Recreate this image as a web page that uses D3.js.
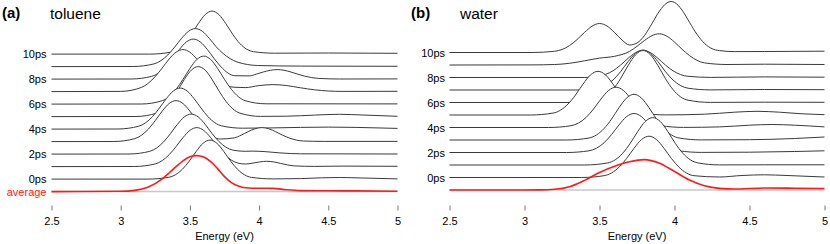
<!DOCTYPE html>
<html>
<head>
<meta charset="utf-8">
<script src="https://cdn.jsdelivr.net/npm/d3@7"></script>
<style>
  body { margin: 0; background: #fff; }
  svg { display: block; font-family: 'Liberation Sans', Arial, sans-serif; }
</style>
</head>
<body>
<div id="chart"></div>
<script>
'use strict';

// rows from bottom (front) to top (back)
const rows = ['average', '0ps', '1ps', '2ps', '3ps', '4ps', '5ps', '6ps', '7ps', '8ps', '9ps', '10ps'];
const rowLabels = ['average', '0ps', '', '2ps', '', '4ps', '', '6ps', '', '8ps', '', '10ps'];
const energyTicks = [2.5, 3, 3.5, 4, 4.5, 5];

// toluene spectra, [energy (eV), intensity (a.u.)]
const tolAvg = [[2.5,0],[3.0,0.3],[3.1,1.2],[3.2,4.6],[3.3,12.7],[3.35,18.6],[3.4,25],[3.45,30.8],[3.5,34.8],[3.545,36],[3.6,34.5],[3.65,30],[3.7,23],[3.75,15],[3.8,9],[3.85,5.5],[3.9,3.8],[4.0,3.3],[4.05,3.4],[4.1,3.2],[4.2,1.8],[4.3,1.0],[4.5,0.8],[4.7,0.7],[5,0.4]];
const tol00 = [[2.5,0],[3.195,0],[3.345,1.7],[3.445,9.7],[3.495,17.9],[3.545,27.6],[3.595,35.8],[3.645,39],[3.695,35.8],[3.745,27.6],[3.795,17.9],[3.845,9.7],[3.945,1.7],[4.1,0.2],[4.3,0.5],[4.45,1.3],[4.58,1.6],[4.75,1.1],[5,0.2]];
const tol01 = [[2.5,0],[3.1,0.1],[3.25,2.7],[3.35,11.9],[3.4,20],[3.45,29],[3.5,36.2],[3.55,39],[3.6,36.2],[3.65,29],[3.7,20],[3.75,12],[3.85,3.4],[3.9,2.6],[3.955,3.5],[4.005,4.7],[4.055,5.3],[4.105,4.7],[4.155,3.2],[4.205,1.7],[4.255,0.7],[4.4,0.2],[4.6,0.5],[5,0.3]];
const tol02 = [[2.5,0],[3.06,0.1],[3.21,2.8],[3.31,12.2],[3.36,20.6],[3.41,29.8],[3.46,37.2],[3.51,40],[3.56,37.2],[3.61,29.8],[3.66,20.6],[3.71,12.6],[3.81,4.0],[3.9,2.8],[3.95,3],[4.05,2.4],[4.15,1.2],[4.3,0.3],[5,0.1]];
const tol03 = [[2.5,0],[2.95,0.1],[3.1,2.9],[3.2,12.5],[3.25,21.1],[3.3,30.5],[3.35,38.1],[3.4,41],[3.45,38.1],[3.5,30.5],[3.55,21.1],[3.6,12.5],[3.72,2.6],[3.82,3.7],[3.87,6.4],[3.92,9.9],[3.97,12.8],[4.02,14],[4.07,12.8],[4.12,9.9],[4.17,6.4],[4.22,3.5],[4.32,0.6],[4.47,0.2],[5,0.2]];
const tol04 = [[2.5,0],[2.98,0.1],[3.13,2.9],[3.23,12.5],[3.28,21.1],[3.33,30.5],[3.38,38.1],[3.43,41],[3.48,38.1],[3.53,30.5],[3.58,21.1],[3.63,12.5],[3.73,3.2],[3.88,0.9],[4.1,1.2],[4.3,1.7],[4.5,2],[4.7,1.7],[5,0.7]];
const tol05 = [[2.5,0],[3.11,0.1],[3.26,3.5],[3.36,15.3],[3.41,25.7],[3.46,37.2],[3.51,46.5],[3.56,50],[3.61,46.5],[3.66,37.2],[3.71,25.7],[3.76,15.3],[3.86,3.5],[4.01,0.2],[4.2,0.4],[4.4,1.5],[4.58,2.3],[4.75,1.6],[5,0.3]];
const tol06 = [[2.5,0],[3.15,0.1],[3.3,3.4],[3.4,14.7],[3.45,24.7],[3.5,35.7],[3.55,44.6],[3.6,48],[3.65,44.6],[3.7,35.7],[3.75,24.7],[3.8,14.7],[3.9,3.4],[4.05,0.3],[5,0.2]];
const tol07 = [[2.5,0],[3.0,0.2],[3.15,4.2],[3.25,15.1],[3.3,23.6],[3.35,32.6],[3.4,39.4],[3.45,42],[3.5,39.4],[3.55,32.6],[3.6,23.6],[3.65,15.1],[3.75,5.3],[3.9,4.0],[4.0,6],[4.1,7],[4.2,6],[4.3,3.8],[4.4,1.8],[4.5,0.6],[4.6,0.2],[5,0.3]];
const tol08 = [[2.5,0],[3.075,0.1],[3.225,2.8],[3.325,12.2],[3.375,20.6],[3.425,29.8],[3.475,37.2],[3.525,40],[3.575,37.2],[3.625,29.8],[3.675,20.6],[3.725,12.2],[3.825,3.4],[3.93,3.2],[3.98,5],[4.03,7.1],[4.08,8.8],[4.13,9.5],[4.18,8.8],[4.23,7.1],[4.28,4.9],[4.33,2.9],[4.43,0.7],[4.58,0.1],[5,0.2]];
const tol09 = [[2.5,0],[3.09,0.1],[3.24,2.7],[3.34,11.6],[3.39,19.5],[3.44,28.3],[3.49,35.3],[3.54,38],[3.59,35.3],[3.64,28.3],[3.69,19.8],[3.74,13.1],[3.84,4.7],[3.99,1.1],[4.3,0.5],[5,0.3]];
const tol10 = [[2.5,0],[3.21,0],[3.36,1.9],[3.46,10.7],[3.51,19.7],[3.56,30.4],[3.61,39.4],[3.66,43],[3.71,39.4],[3.76,30.4],[3.81,19.7],[3.86,10.7],[3.96,2.4],[4.11,0.9],[4.5,1.1],[4.8,0.9],[5,0.8]];

// water spectra
const watAvg = [[2.5,0],[3.0,0],[3.1,0.1],[3.2,0.7],[3.3,3.3],[3.4,9.6],[3.5,17.5],[3.6,23.7],[3.7,28.3],[3.8,30.4],[3.9,26.7],[4.0,18.5],[4.1,10],[4.2,4.2],[4.3,1.6],[4.4,1.0],[4.6,2],[4.8,1.8],[5,1.5]];
const wat00 = [[2.5,0],[3.38,0],[3.53,1.8],[3.63,10.3],[3.68,18.9],[3.73,29.2],[3.78,37.9],[3.83,41.3],[3.88,37.9],[3.93,29.2],[3.98,18.9],[4.03,10.3],[4.13,1.8],[4.3,0.5],[4.45,2],[4.6,2.7],[4.75,2],[5,0.5]];
const wat01 = [[2.5,0],[3.4,0],[3.555,2.1],[3.655,11.8],[3.705,21.7],[3.755,33.5],[3.805,43.5],[3.855,47.4],[3.905,43.5],[3.955,33.5],[4.005,21.7],[4.055,11.8],[4.155,2.1],[4.3,0.1],[4.6,0.2],[5,0.2]];
const wat02 = [[2.5,0],[3.28,0],[3.43,1.7],[3.53,9.7],[3.58,17.9],[3.63,27.6],[3.68,35.8],[3.73,39],[3.78,35.8],[3.83,27.6],[3.88,17.9],[3.93,9.7],[4.03,1.7],[4.18,0.1],[4.5,0.3],[4.8,1],[5,1.7]];
const wat03 = [[2.5,0],[3.28,0],[3.43,2],[3.53,11.4],[3.58,20.9],[3.63,32.3],[3.68,41.9],[3.73,45.7],[3.78,41.9],[3.83,32.3],[3.88,20.9],[3.93,11.4],[4.03,2],[4.18,0.1],[4.5,0.3],[4.8,1.5],[5,3]];
const wat04 = [[2.5,0],[3.16,0],[3.31,1.8],[3.41,10],[3.46,18.5],[3.51,28.5],[3.56,37],[3.61,40.3],[3.66,37],[3.71,28.5],[3.76,18.5],[3.81,10],[3.91,1.8],[4.06,0.1],[4.3,0.6],[4.5,2.3],[4.65,3],[4.8,2.3],[5,0.6]];
const wat05 = [[2.5,0],[3.04,0],[3.19,1.9],[3.29,10.9],[3.34,20],[3.39,30.9],[3.44,40.1],[3.49,43.7],[3.54,40.1],[3.59,30.9],[3.64,20],[3.69,10.9],[3.79,1.9],[3.94,0.1],[4.2,0.8],[4.4,2.8],[4.55,3.7],[4.7,2.8],[4.85,1.2],[5,0.3]];
const wat06 = [[2.5,0],[3.34,0],[3.49,2.3],[3.59,12.9],[3.64,23.8],[3.69,36.8],[3.74,47.7],[3.79,52],[3.84,47.7],[3.89,36.8],[3.94,23.8],[3.99,12.9],[4.09,2.3],[4.24,0.1],[4.6,0.3],[5,0.2]];
const wat07 = [[2.5,0],[3.34,0],[3.49,1.8],[3.59,10],[3.64,18.3],[3.69,28.3],[3.74,36.7],[3.79,40],[3.84,36.7],[3.89,28.3],[3.94,18.3],[3.99,10],[4.09,1.8],[4.24,0.1],[4.6,0.5],[5,0.3]];
const wat08 = [[2.5,0],[3.4,0],[3.49,1.2],[3.59,6.7],[3.64,12.4],[3.69,19.1],[3.74,24.8],[3.79,27],[3.84,24.8],[3.89,19.1],[3.94,12.4],[3.99,6.7],[4.09,1.2],[4.24,0.1],[4.6,0.6],[5,0.3]];
const wat09 = [[2.5,0],[3.05,0.1],[3.2,0.5],[3.3,1.7],[3.4,4.2],[3.5,6.9],[3.6,8.7],[3.7,13.6],[3.75,18.7],[3.8,24.5],[3.85,29.4],[3.9,31.2],[3.95,28.7],[4.0,22.9],[4.05,15.8],[4.1,9.4],[4.2,2.1],[4.35,0.5],[4.6,0.8],[5,0.5]];
const wat10 = [[2.5,0],[3.05,0],[3.2,1.2],[3.3,6.9],[3.35,12.9],[3.4,20.1],[3.45,26.3],[3.5,29],[3.55,26.5],[3.6,20],[3.65,12.5],[3.7,7.5],[3.75,9.5],[3.8,17],[3.85,29],[3.9,41.5],[3.95,49.7],[3.977,51],[4.0,50.1],[4.05,42.4],[4.1,30.2],[4.15,18.1],[4.2,9.1],[4.25,3.8],[4.3,1.9],[4.4,0.9],[4.6,1.0],[5,1.3]];

const width = 830, height = 244;

const svg = d3.select('#chart')
    .append('svg')
    .attr('width', width)
    .attr('height', height);

const panels = [
    {tag: '(a)', tagX: 2, name: 'toluene', nameX: 50, left: 51.5, right: 397.5, bottom: 191.6, top: 54.1,
     labelX: 46.5, showAverage: true,
     curves: [tolAvg, tol00, tol01, tol02, tol03, tol04, tol05, tol06, tol07, tol08, tol09, tol10]},
    {tag: '(b)', tagX: 411, name: 'water', nameX: 460, left: 449.5, right: 824.5, bottom: 190, top: 52.5,
     labelX: 445, showAverage: false,
     curves: [watAvg, wat00, wat01, wat02, wat03, wat04, wat05, wat06, wat07, wat08, wat09, wat10]},
];

panels.forEach(drawPanel);

function drawPanel(p) {
    const x = d3.scaleLinear().domain([2.5, 5]).range([p.left, p.right]),
        row = d3.scalePoint().domain(rows).range([p.bottom, p.top]),
        y = d3.scaleLinear().domain([0, 50]).range([0, 50]);

    const g = svg.append('g');

    // back to front, white fill hides the curves behind
    for (let i = rows.length - 1; i >= 1; i--) {
        const base = row(rows[i]),
            area = d3.area()
                .x(d => x(d[0]))
                .y0(base)
                .y1(d => base - y(d[1]))
                .curve(d3.curveMonotoneX);

        g.append('path')
            .attr('d', area(p.curves[i]))
            .attr('fill', '#fff');
        g.append('path')
            .attr('d', area.lineY1()(p.curves[i]))
            .attr('fill', 'none')
            .attr('stroke', '#3a3a3a')
            .attr('stroke-width', 1);
    }

    // average: grey zero line + red curve
    const avgBase = row('average');
    g.append('line')
        .attr('x1', x(2.5)).attr('x2', x(5))
        .attr('y1', avgBase).attr('y2', avgBase)
        .attr('stroke', '#c8c8c8')
        .attr('stroke-width', 1.5);

    const avgLine = d3.line()
        .x(d => x(d[0]))
        .y(d => avgBase - y(d[1]))
        .curve(d3.curveMonotoneX);
    g.append('path')
        .attr('d', avgLine(p.curves[0]))
        .attr('fill', 'none')
        .attr('stroke', '#ff1a1a')
        .attr('stroke-width', 1.6);

    // row labels
    g.selectAll('.rowlabel')
        .data(rows.map((r, i) => ({r: r, label: rowLabels[i]}))
            .filter(d => d.label && (d.r != 'average' || p.showAverage)))
        .enter()
        .append('text')
        .attr('class', 'rowlabel')
        .attr('x', p.labelX)
        .attr('y', d => row(d.r) + 4)
        .attr('text-anchor', 'end')
        .style('font-size', '11px')
        .attr('fill', d => d.r == 'average' ? '#ff1a1a' : '#000')
        .text(d => d.label);

    // energy axis, ticks only
    const axis = g.append('g')
        .attr('transform', 'translate(0,205.5)')
        .call(d3.axisBottom(x).tickValues(energyTicks).tickSize(5).tickPadding(6.5).tickFormat(d => String(d)));
    axis.select('.domain').remove();
    axis.selectAll('.tick line').attr('stroke', '#777');
    axis.selectAll('.tick text')
        .attr('fill', '#000')
        .style('font-size', '11px')
        .style('font-family', "'Liberation Sans', Arial, sans-serif");

    g.append('text')
        .attr('x', (p.left + p.right) / 2)
        .attr('y', 239.5)
        .attr('text-anchor', 'middle')
        .style('font-size', '11px')
        .attr('fill', '#000')
        .text('Energy (eV)');

    // panel titles
    g.append('text')
        .attr('x', p.tagX)
        .attr('y', 18)
        .style('font-size', '15px')
        .style('font-weight', 'bold')
        .attr('fill', '#000')
        .text(p.tag);
    g.append('text')
        .attr('x', p.nameX)
        .attr('y', 18.5)
        .style('font-size', '15.5px')
        .attr('fill', '#000')
        .text(p.name);
}
</script>
</body>
</html>
